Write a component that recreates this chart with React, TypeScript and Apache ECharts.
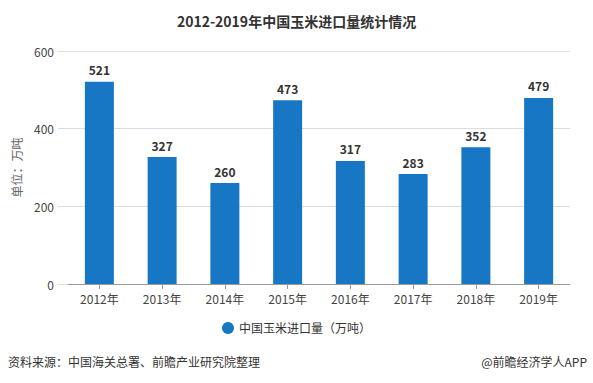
import React, { useEffect, useRef } from "react";
import * as echarts from "echarts";

const categories = ["2012年", "2013年", "2014年", "2015年", "2016年", "2017年", "2018年", "2019年"];
const imports = [521, 327, 260, 473, 317, 283, 352, 479];
const yTicks = { min: 0, max: 600, interval: 200 };

export default function App() {
  const ref = useRef<HTMLDivElement>(null);
  useEffect(() => {
    const chart = echarts.init(ref.current!, null, { renderer: "svg" });
    const font = '"Microsoft YaHei", "Noto Sans CJK SC", sans-serif';
    chart.setOption({
      animation: false,
      backgroundColor: "#ffffff",
      textStyle: { fontFamily: font },
      title: {
        text: "2012-2019年中国玉米进口量统计情况",
        left: "center",
        top: 9,
        textStyle: { fontSize: 14, fontWeight: "bold", color: "#333333", fontFamily: font },
      },
      legend: {
        bottom: 44,
        left: "center",
        icon: "circle",
        itemWidth: 12,
        itemHeight: 12,
        textStyle: { fontSize: 12, color: "#333333", fontFamily: font },
        data: ["中国玉米进口量（万吨）"],
      },
      grid: { left: 68, right: 23, top: 51, bottom: 99 },
      xAxis: {
        type: "category",
        data: categories,
        axisLine: { lineStyle: { color: "#999999" } },
        axisTick: { show: true, alignWithLabel: true, lineStyle: { color: "#999999" } },
        axisLabel: { color: "#444444", fontSize: 12, margin: 8, fontFamily: font },
      },
      yAxis: {
        type: "value",
        min: yTicks.min,
        max: yTicks.max,
        interval: yTicks.interval,
        name: "单位：万吨",
        nameLocation: "middle",
        nameGap: 46,
        nameTextStyle: { color: "#666666", fontSize: 12, fontFamily: font },
        axisLine: { show: false },
        axisTick: { show: true, length: 10, lineStyle: { color: "#dddddd" } },
        axisLabel: { color: "#444444", fontSize: 12, margin: 14, fontFamily: font },
        splitLine: { lineStyle: { color: "#dddddd" } },
      },
      series: [
        {
          name: "中国玉米进口量（万吨）",
          type: "bar",
          data: imports,
          barWidth: 29,
          itemStyle: { color: "#1777c4" },
          label: {
            show: true,
            position: "top",
            distance: 6,
            color: "#333333",
            fontWeight: "bold",
            fontSize: 12,
            fontFamily: font,
          },
        },
      ],
      graphic: [
        {
          type: "text",
          left: 8,
          top: 355,
          style: { text: "资料来源：中国海关总署、前瞻产业研究院整理", fontSize: 12, fill: "#333333", fontFamily: font },
        },
        {
          type: "text",
          right: 6,
          top: 355,
          style: { text: "@前瞻经济学人APP", fontSize: 12, fill: "#333333", fontFamily: font },
        },
      ],
    });
    return () => chart.dispose();
  }, []);
  return <div ref={ref} style={{ width: 593, height: 383, position: "absolute", left: 0, top: 0 }} />;
}
